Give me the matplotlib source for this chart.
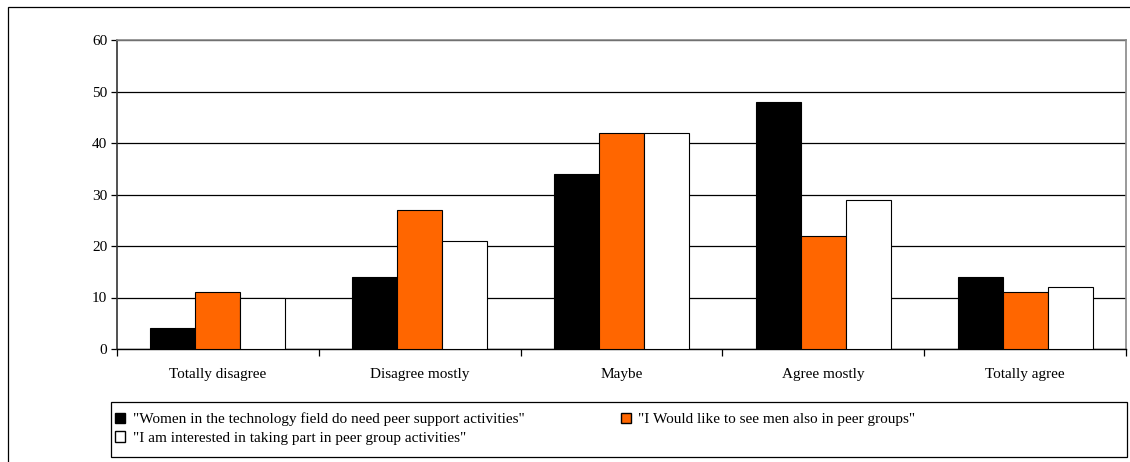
import matplotlib.pyplot as plt
import numpy as np
from matplotlib.patches import Rectangle, Patch

categories = ['Totally disagree', 'Disagree mostly', 'Maybe', 'Agree mostly', 'Totally agree']
need_support = [4, 14, 34, 48, 14]
men_also = [11, 27, 42, 22, 11]
interested = [10, 21, 42, 29, 12]

labels = ['"Women in the technology field do need peer support activities"',
          '"I Would like to see men also in peer groups"',
          '"I am interested in taking part in peer group activities"']
colors = ['#000000', '#FF6600', '#FFFFFF']

plt.rcParams['font.family'] = ['Liberation Serif', 'DejaVu Serif']

fig = plt.figure(figsize=(11.3, 4.62), dpi=100)
W, H = 1130, 462

# outer chart frame
fig.patches.append(Rectangle((8 / W, -0.1), 1.2, 1 - 7 / H + 0.1, transform=fig.transFigure,
                             fill=False, edgecolor='#000000', linewidth=0.9))

ax = fig.add_axes([117 / W, 1 - 349 / H, (1126 - 117) / W, (349 - 40) / H])

x = np.arange(len(categories))
w = 0.223
for i, vals in enumerate([need_support, men_also, interested]):
    ax.bar(x + (i - 1) * w, vals, w, color=colors[i], edgecolor='black', linewidth=0.8,
           zorder=3)

ax.set_xlim(-0.5, len(categories) - 0.5)
ax.set_ylim(0, 60)
ax.set_yticks(range(0, 61, 10))
ax.yaxis.grid(True, color='black', linewidth=0.9, zorder=0)
ax.set_xticks(x)
ax.set_xticklabels(categories, fontsize=11)
ax.tick_params(axis='x', length=0, pad=14)
ax.set_xticks(np.arange(-0.5, len(categories) + 0.5, 1), minor=True)
ax.tick_params(axis='x', which='minor', length=5, width=0.9, direction='out')
ax.tick_params(axis='y', length=4, width=0.9, labelsize=11, pad=3)

for s in ['top', 'right']:
    ax.spines[s].set_color('#888888')
    ax.spines[s].set_linewidth(1.2)
ax.spines['left'].set_color('#333333')
ax.spines['left'].set_linewidth(1.2)
ax.spines['bottom'].set_linewidth(1.0)

# legend box
fig.patches.append(Rectangle((111 / W, 1 - 457 / H), (1127 - 111) / W, (457 - 402) / H,
                             transform=fig.transFigure, fill=False, edgecolor='black',
                             linewidth=0.9))
handles = [Patch(facecolor=c, edgecolor='black', linewidth=1.0) for c in colors]
order = [0, 2, 1]
fig.legend([handles[k] for k in order], [labels[k] for k in order], ncol=2,
           loc='upper left', bbox_to_anchor=(103 / W, 1 - 400 / H), frameon=False,
           fontsize=11, handlelength=0.65, handleheight=0.65, handletextpad=0.5,
           columnspacing=6.3, labelspacing=0.35, borderpad=0.3)

fig.savefig('out.png', dpi=100)
